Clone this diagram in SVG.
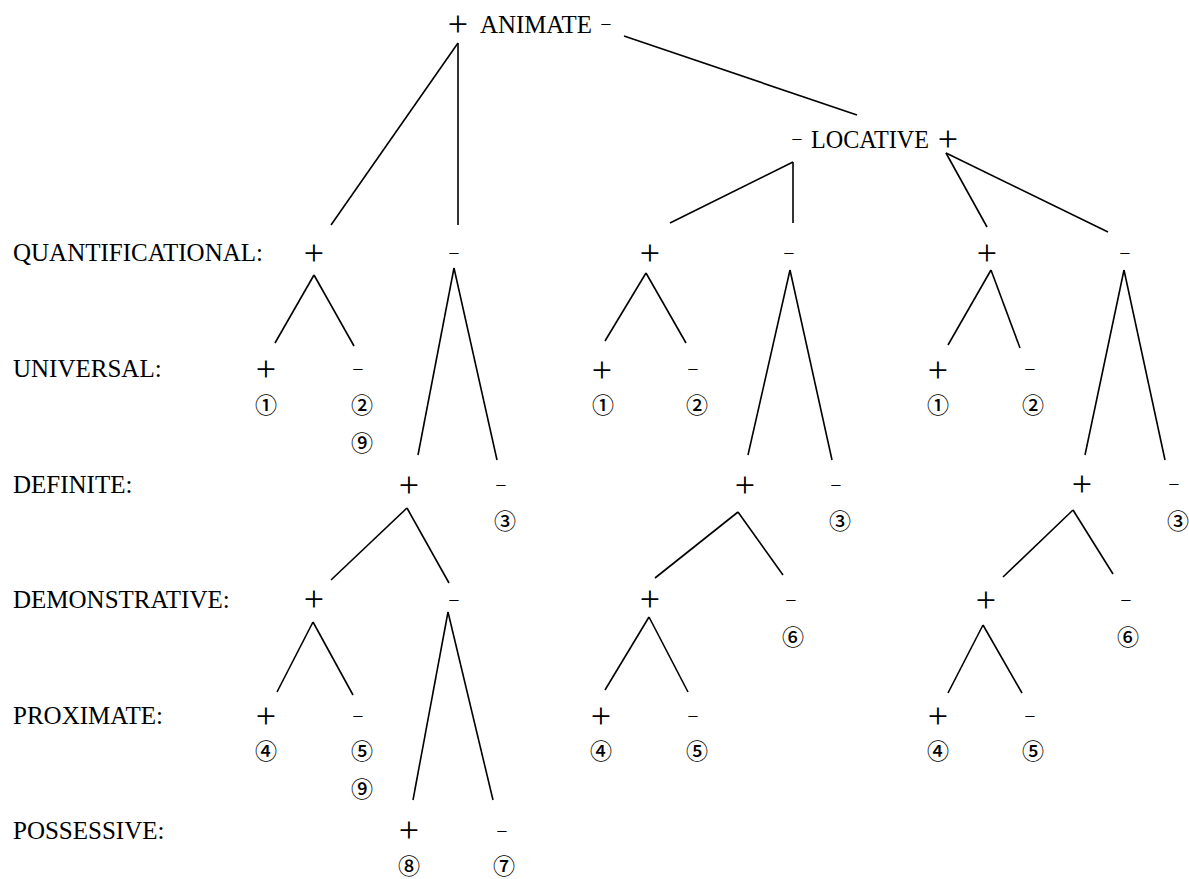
<svg xmlns="http://www.w3.org/2000/svg" width="1189" height="879" viewBox="0 0 1189 879">
<style>
text{font-family:"Liberation Serif","DejaVu Serif",serif;fill:#000}
.lab{font-size:25px}
.p{font-size:36px;text-anchor:middle}
.m{font-size:20px;text-anchor:middle}
.c{font-family:"Noto Sans CJK JP","DejaVu Sans",sans-serif;font-size:22px;font-weight:500;text-anchor:middle}
.e line{stroke:#000;stroke-width:1.6;stroke-linecap:butt}
</style>
<rect width="1189" height="879" fill="#fff"/>
<g id="labels">
<text class="lab" x="13" y="261">QUANTIFICATIONAL:</text>
<text class="lab" x="13" y="377">UNIVERSAL:</text>
<text class="lab" x="13" y="493">DEFINITE:</text>
<text class="lab" x="13" y="608">DEMONSTRATIVE:</text>
<text class="lab" x="13" y="724">PROXIMATE:</text>
<text class="lab" x="13" y="839">POSSESSIVE:</text>
</g>
<g id="animate">
<text class="p" x="458" y="36">+</text>
<text class="lab" x="480" y="33" textLength="112" lengthAdjust="spacingAndGlyphs">ANIMATE</text>
<text class="m" x="606" y="31">−</text>
</g>
<g id="locative">
<text class="m" x="797" y="146">−</text>
<text class="lab" x="811" y="148" textLength="118" lengthAdjust="spacingAndGlyphs">LOCATIVE</text>
<text class="p" x="948" y="151">+</text>
</g>
<g class="e" id="connectors">
<line x1="458" y1="43" x2="331" y2="225"/>
<line x1="458" y1="43" x2="458" y2="225"/>
<line x1="624" y1="36" x2="857" y2="115"/>
<line x1="793" y1="162" x2="670" y2="223"/>
<line x1="793" y1="162" x2="793" y2="223"/>
<line x1="946" y1="153" x2="987" y2="227"/>
<line x1="946" y1="153" x2="1108" y2="232"/>
<line x1="314" y1="275" x2="275" y2="343"/>
<line x1="314" y1="275" x2="354" y2="346"/>
<line x1="454" y1="268" x2="418" y2="455"/>
<line x1="454" y1="268" x2="497" y2="460"/>
<line x1="407" y1="508" x2="331" y2="580"/>
<line x1="407" y1="508" x2="449" y2="583"/>
<line x1="313" y1="622" x2="277" y2="692"/>
<line x1="313" y1="622" x2="353" y2="695"/>
<line x1="448" y1="612" x2="413" y2="800"/>
<line x1="448" y1="612" x2="493" y2="800"/>
<line x1="646" y1="273" x2="605" y2="341"/>
<line x1="646" y1="273" x2="686" y2="343"/>
<line x1="790" y1="270" x2="748" y2="455"/>
<line x1="790" y1="270" x2="832" y2="460"/>
<line x1="738" y1="512" x2="655" y2="578"/>
<line x1="738" y1="512" x2="783" y2="575"/>
<line x1="649" y1="617" x2="605" y2="690"/>
<line x1="649" y1="617" x2="688" y2="692"/>
<line x1="991" y1="270" x2="948" y2="345"/>
<line x1="991" y1="270" x2="1020" y2="348"/>
<line x1="1124" y1="270" x2="1085" y2="455"/>
<line x1="1124" y1="270" x2="1165" y2="460"/>
<line x1="1073" y1="510" x2="1003" y2="577"/>
<line x1="1073" y1="510" x2="1113" y2="574"/>
<line x1="983" y1="625" x2="948" y2="693"/>
<line x1="983" y1="625" x2="1022" y2="693"/>
</g>
<g id="L-q-plus"><text class="p" x="314" y="265">+</text></g>
<g id="L-q-minus"><text class="m" x="454" y="260">−</text></g>
<g id="L-u-plus"><text class="p" x="266" y="381">+</text><text class="c" x="266" y="413">①</text></g>
<g id="L-u-minus"><text class="m" x="358" y="376">−</text><text class="c" x="362" y="413">②</text><text class="c" x="362" y="451">⑨</text></g>
<g id="L-d-plus"><text class="p" x="409" y="497">+</text></g>
<g id="L-d-minus"><text class="m" x="501" y="492">−</text><text class="c" x="505" y="529">③</text></g>
<g id="L-dm-plus"><text class="p" x="314" y="611">+</text></g>
<g id="L-dm-minus"><text class="m" x="454" y="607">−</text></g>
<g id="L-p-plus"><text class="p" x="266" y="728">+</text><text class="c" x="266" y="759">④</text></g>
<g id="L-p-minus"><text class="m" x="358" y="723">−</text><text class="c" x="362" y="759">⑤</text><text class="c" x="362" y="797">⑨</text></g>
<g id="L-ps-plus"><text class="p" x="409" y="842">+</text><text class="c" x="409" y="874">⑧</text></g>
<g id="L-ps-minus"><text class="m" x="502" y="838">−</text><text class="c" x="504" y="874">⑦</text></g>
<g id="M-q-plus"><text class="p" x="650" y="265">+</text></g>
<g id="M-q-minus"><text class="m" x="789" y="260">−</text></g>
<g id="M-u-plus"><text class="p" x="602" y="382">+</text><text class="c" x="603" y="413">①</text></g>
<g id="M-u-minus"><text class="m" x="693" y="376">−</text><text class="c" x="697" y="413">②</text></g>
<g id="M-d-plus"><text class="p" x="745" y="497">+</text></g>
<g id="M-d-minus"><text class="m" x="836" y="492">−</text><text class="c" x="840" y="529">③</text></g>
<g id="M-dm-plus"><text class="p" x="650" y="611">+</text></g>
<g id="M-dm-minus"><text class="m" x="791" y="607">−</text><text class="c" x="793" y="645">⑥</text></g>
<g id="M-p-plus"><text class="p" x="601" y="728">+</text><text class="c" x="601" y="759">④</text></g>
<g id="M-p-minus"><text class="m" x="693" y="723">−</text><text class="c" x="697" y="759">⑤</text></g>
<g id="R-q-plus"><text class="p" x="987" y="265">+</text></g>
<g id="R-q-minus"><text class="m" x="1125" y="260">−</text></g>
<g id="R-u-plus"><text class="p" x="938" y="382">+</text><text class="c" x="938" y="413">①</text></g>
<g id="R-u-minus"><text class="m" x="1030" y="376">−</text><text class="c" x="1033" y="413">②</text></g>
<g id="R-d-plus"><text class="p" x="1082" y="496">+</text></g>
<g id="R-d-minus"><text class="m" x="1174" y="491">−</text><text class="c" x="1178" y="529">③</text></g>
<g id="R-dm-plus"><text class="p" x="986" y="612">+</text></g>
<g id="R-dm-minus"><text class="m" x="1126" y="607">−</text><text class="c" x="1128" y="645">⑥</text></g>
<g id="R-p-plus"><text class="p" x="938" y="728">+</text><text class="c" x="938" y="759">④</text></g>
<g id="R-p-minus"><text class="m" x="1030" y="723">−</text><text class="c" x="1033" y="759">⑤</text></g>
</svg>
